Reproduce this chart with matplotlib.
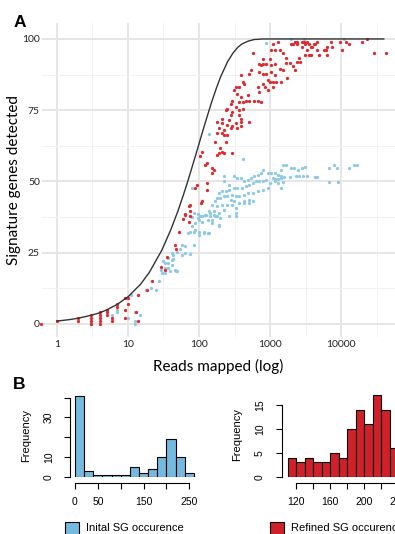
import numpy as np
import matplotlib
matplotlib.use("Agg")
from matplotlib import pyplot as plt
from matplotlib.patches import Rectangle

# ---- panel A data (reads mapped vs signature genes detected) ----
red_pts = [
    (0.6, 0), (1, 1), (2, 1), (2, 2), (3, 0), (3, 1), (3, 2), (3, 3), (4, 0), (4, 1), (4, 2), (4, 3), (4, 4),
    (5, 3), (5, 4), (5, 5), (6, 1), (6, 2), (7, 6), (7, 7), (9, 2), (9, 5), (9, 9), (10, 7), (10, 9),
    (13, 4), (14, 1), (14, 10), (18.5, 12), (22, 15), (29, 20), (33, 19), (35.5, 23.4), (46, 27.7), (47, 26.2),
    (52, 32.4), (60, 36.7), (64, 38.6), (72, 35.6), (75, 37.9), (72, 41.4), (108, 42.6), (63, 38.3), (75, 39.5), (75, 41.9),
    (110, 43), (129, 47.1), (88, 47.7), (93, 48.8), (129, 49.4), (153, 52.9), (161, 54.1), (153, 54.7), (122, 55.9),
    (129, 56.4), (104, 58.8), (110, 60.5), (295, 59.9), (225, 59.9), (180, 59.3), (190, 59.9), (212, 60.5), (200, 61.7),
    (237, 64), (170, 64), (250, 66.3), (225, 66.3), (212, 66.9), (180, 66.9), (388, 69.3), (348, 68.7), (280, 68.7),
    (225, 68.1), (190, 68.7), (509, 71), (388, 71), (329, 70.4), (295, 69.3), (250, 69.9), (212, 70.4), (180, 71),
    (1300, 99), (1040, 96), (1160, 96), (1370, 96), (570, 95), (792, 93), (986, 93), (709, 91.3), (750, 90.7),
    (792, 91.3), (883, 91.3), (1040, 90.7), (1160, 91.3), (1370, 89.5), (539, 89), (511, 87.8), (709, 88.4),
    (792, 87.8), (883, 87.8), (1040, 88.4), (1160, 87.2), (933, 85.5), (986, 84.9), (1100, 84.9), (1227, 84.9),
    (1450, 84.9), (792, 84.3), (837, 83.1), (672, 83.1), (709, 81.4), (933, 82), (1100, 83.1), (388, 87.2),
    (410, 84.9), (433, 84.3), (368, 83.1), (329, 83.1), (312, 82), (348, 80.8), (295, 78.4), (388, 79.6),
    (483, 80.2), (458, 78.4), (368, 77.8), (410, 77.8), (603, 78.4), (672, 78.4), (750, 77.8), (511, 78.4),
    (329, 76), (279, 77.3), (250, 75.5), (237, 74.9), (368, 74.9), (410, 75.5), (295, 74.3), (368, 73.2),
    (388, 72), (279, 73.2), (212, 72), (265, 71.4), (1100, 98.2),
    (1950, 98.2), (2140, 98.2), (2250, 99.1), (2430, 99.1), (2430, 98.2), (2800, 99.1), (3030, 99.1), (3130, 98.2),
    (3330, 99.1), (2800, 97.3), (4650, 99.1), (4350, 98.2), (4140, 98.2), (3500, 98.2), (3720, 97.3), (3900, 97.3),
    (4650, 96.1), (3330, 96.1), (3130, 94.4), (3500, 94.4), (3720, 94.4), (4850, 94.4), (6400, 97.3), (7500, 97.3),
    (7120, 99.1), (5740, 96.1), (6050, 96.1), (6400, 94.4), (9800, 99.1), (11600, 99.1), (13000, 98.2), (10450, 96.1),
    (20000, 99.1), (23300, 100), (28700, 95.2), (43000, 95.2), (1534, 95.2), (1700, 93.2), (1680, 91.5), (1930, 91.5),
    (2080, 90.5), (2250, 89), (2520, 93.2), (2400, 92), (2680, 92), (1750, 86.2), (1534, 89.2),
]

blue_pts = [
    (3, 0), (3, 1), (6, 3), (7, 4), (7, 5), (9, 9), (11, 10), (10, 2), (12.5, 4), (12.5, 0), (12.5, 1), (15, 3),
    (18, 12), (21, 12.5), (25, 12), (27, 15), (30.6, 18), (33, 19.5), (37, 21.5), (43, 22.7), (49.5, 18.4),
    (48.5, 25.4), (57, 27.7),
    (79, 37.4), (84, 38.8), (96, 38.6), (104, 37.9), (112, 37.7), (125, 38.2), (145, 38.8), (162, 38.2), (180, 37.7),
    (190, 34.4), (153, 35.3), (136, 36.3), (110, 35.9), (99, 36.5), (88, 35.3), (79, 34.2), (84, 32.4), (75, 32.4),
    (71, 31.8), (99, 32.4), (117, 31.8), (136, 31.8), (99, 31.2), (88, 33), (64, 27.2), (54, 26.2), (64, 24.8),
    (57, 24.2), (84, 27.7), (41, 24.8), (43, 24.2), (37, 23.1), (41, 22.5), (31, 21.9), (33, 21.3), (41, 20.7),
    (37, 19.6), (46, 19), (39, 18.4), (48, 18.4), (33, 17.8), (29.5, 19), (75, 24.6),
    (418, 57.8), (137, 66.7), (225, 51.8), (225, 50), (263, 48.8), (312, 51.8), (348, 51.2), (388, 51.2), (432, 50),
    (483, 50.6), (538, 51.2), (600, 51.8), (670, 52.4), (748, 52.9), (791, 54.1), (933, 52.9), (1039, 52.9),
    (1160, 52.9), (1293, 52.4), (1444, 54.1), (1444, 51.2), (1098, 51.2), (884, 50.6), (791, 50), (708, 50),
    (634, 50), (568, 49.4), (509, 48.8), (456, 48.3), (409, 47.7), (348, 47.7), (312, 47.7), (263, 47.1),
    (237, 46.5), (212, 46.5), (190, 45.9), (180, 44.2), (200, 44.2), (225, 44.8), (250, 44.8), (295, 45.3),
    (329, 44.8), (367, 44.8), (432, 45.3), (483, 45.9), (568, 45.9), (670, 46.5), (791, 47.1), (933, 47.7),
    (280, 43.6), (312, 43), (367, 42.4), (432, 43), (509, 43.6), (568, 43), (170, 43), (153, 41.9), (180, 41.3),
    (212, 41.9), (250, 41.9), (295, 41.9), (329, 40.7), (225, 40.1), (190, 38.9), (161, 39.5), (137, 39.5),
    (122, 38.3), (110, 37.8), (98, 37.2), (144, 37.8), (170, 37.8), (200, 37.2), (263, 37.8), (153, 36.6),
    (79, 47.7), (329, 38.9), (984, 49.4), (1160, 50), (1293, 49.4),
    (137, 31.8), (117, 32.4), (190, 34.7), (330, 37.7), (510, 42.6), (430, 42.6),
    (1530, 55.8), (1700, 55.8), (2000, 54.7), (2200, 54.7), (2500, 54), (2800, 54.7), (3100, 55), (1450, 52),
    (1600, 51.5), (1900, 51.5), (2300, 52), (2600, 52), (2900, 52), (3300, 52), (1170, 50.8), (1300, 50.8),
    (1530, 49.9), (1450, 47.7), (4370, 51.7), (4600, 51.7), (6700, 54.8), (7950, 55.8), (8900, 54.8),
    (6700, 49.7), (9200, 49.7), (13000, 54.8), (15000, 55.8), (16600, 55.8),
    (880, 98.6), (1950, 100), (3000, 100), (11000, 100),
]

# expected-detection curve
curve_reads = [1, 1.5, 2, 3, 4, 5, 7, 10, 15, 20, 30, 40, 50, 60, 70, 80, 90, 100, 120, 150, 175, 200, 250,
               300, 350, 400, 500, 600, 800, 1000, 1500, 2000, 5000, 10000, 40000]
curve_genes = [1, 1.5, 2, 3, 3.9, 4.9, 6.8, 9.5, 13.9, 18.1, 25.9, 33, 39.3, 45.1, 50.3, 55.1, 59.3, 63.2, 69.9,
               77.7, 82.6, 86.5, 91.8, 95, 97, 98.2, 99.3, 99.8, 100, 100, 100, 100, 100, 100, 100]

# ---- panel B data (histograms) ----
init_bins = [0, 20, 40, 60, 80, 100, 120, 140, 160, 180, 200, 220, 240]
init_counts = [41, 3, 1, 1, 1, 1, 5, 2, 4, 10, 19, 10, 2]
ref_bins = [110, 120, 130, 140, 150, 160, 170, 180, 190, 200, 210, 220, 230]
ref_counts = [4, 3, 4, 3, 3, 5, 4, 10, 14, 11, 17, 14, 6]

RED = "#E0282E"
BLUE = "#8DC8E8"
HRED = "#D0202A"
HBLUE = "#74BADF"
TOPFONT = "Lato"

W, H = 395, 534
fig = plt.figure(figsize=(W / 100, H / 100), dpi=100)


def box(l, t, r, b):
    # pixel box -> figure fraction
    return [l / W, 1 - b / H, (r - l) / W, (b - t) / H]


# ---------- panel A ----------
ax = fig.add_axes(box(42, 23, 395, 337))
bx, by = zip(*blue_pts)
rx, ry = zip(*red_pts)
ax.scatter(bx, by, s=5.5, color=BLUE, linewidths=0, zorder=3, clip_on=False)
ax.scatter(rx, ry, s=5.5, color=RED, linewidths=0, zorder=4, clip_on=False)
ax.plot(curve_reads, curve_genes, color="#333333", lw=1.0, zorder=5)

ax.set_xscale("log")
ax.set_xticks([1, 10, 100, 1000, 10000])
ax.set_xticklabels(["1", "10", "100", "1000", "10000"])
ax.set_xticks([10 ** (k + 0.5) for k in range(0, 5)], minor=True)
ax.set_yticks([0, 25, 50, 75, 100])
ax.set_yticks([12.5, 37.5, 62.5, 87.5], minor=True)
ax.set_xlim(0.615, 57600)
ax.set_ylim(-4.6, 105.6)
ax.tick_params(which="both", length=0)
ax.tick_params(axis="y", pad=1.5)
ax.tick_params(axis="x", pad=2)
for lab in ax.get_xticklabels() + ax.get_yticklabels():
    lab.set_fontfamily(TOPFONT)
    lab.set_fontsize(7.5)
    lab.set_color("#222222")
ax.xaxis.set_minor_formatter(matplotlib.ticker.NullFormatter())
ax.grid(which="major", color="#E6E6E6", lw=1.4)
ax.grid(which="minor", color="#F2F2F2", lw=0.7)
ax.set_axisbelow(True)
for s in ax.spines.values():
    s.set_visible(False)
ax.set_xlabel("Reads mapped (log)", fontfamily=TOPFONT, fontsize=11, labelpad=7)
ax.set_ylabel("Signature genes detected", fontfamily=TOPFONT, fontsize=11, labelpad=1)

fig.text(14 / W, 1 - 27 / H, "A", fontsize=12.5, fontweight="bold", fontfamily="Liberation Sans")
fig.text(13 / W, 1 - 389 / H, "B", fontsize=12.5, fontweight="bold", fontfamily="Liberation Sans")

# ---------- panel B ----------
HFONT = "Liberation Sans"


def r_hist(axh, bins, counts, width, color, ybound, xbound, xticks, xlabels, yticks, ylabels):
    axh.bar(bins, counts, width=width, align="edge", color=color, edgecolor="black", linewidth=0.8)
    for s in ["top", "right"]:
        axh.spines[s].set_visible(False)
    axh.spines["left"].set_bounds(*ybound)
    axh.spines["bottom"].set_bounds(*xbound)
    axh.spines["bottom"].set_position(("outward", 4.5))
    axh.spines["left"].set_linewidth(0.8)
    axh.spines["bottom"].set_linewidth(0.8)
    axh.set_xticks(xticks)
    axh.set_xticklabels(xlabels, fontfamily=HFONT, fontsize=7.5)
    axh.set_yticks(yticks)
    axh.set_yticklabels(ylabels, fontfamily=HFONT, fontsize=7.5, rotation=90, va="center")
    axh.tick_params(length=4, width=0.8)
    axh.tick_params(axis="x", pad=6)
    axh.tick_params(axis="y", pad=8)
    axh.set_ylabel("Frequency", fontfamily=HFONT, fontsize=8, labelpad=9)


# left histogram: x=0 at px 75, 250 at px 189.3 ; y=0 at px 476.7, 40 at px 397.7
hx = 114.3 / 250
hy = 79.0 / 40
ax1 = fig.add_axes(box(75 - 10 * hx, 476.7 - 42 * hy, 75 + 270 * hx, 476.7))
r_hist(ax1, init_bins, init_counts, 20, HBLUE, (0, 40), (0, 250),
       [0, 50, 100, 150, 200, 250], ["0", "50", "", "150", "", "250"],
       [0, 10, 20, 30, 40], ["0", "10", "", "30", ""])
ax1.set_xlim(-10, 270)
ax1.set_ylim(0, 42)

# right histogram: x=120 at px 296, 0.85 px per unit ; y=0 at px 476.7, 15 at px 405
rxs = 0.85
rys = 71.7 / 15
ax2 = fig.add_axes(box(296 - 16.8 * rxs, 476.7 - 17.5 * rys, 296 + 140 * rxs, 476.7))
r_hist(ax2, ref_bins, ref_counts, 10, HRED, (0, 15), (120, 240),
       [120, 140, 160, 180, 200, 220, 240], ["120", "", "160", "", "200", "", "240"],
       [0, 5, 10, 15], ["0", "5", "10", "15"])
ax2.set_xlim(103.2, 260)
ax2.set_ylim(0, 17.5)

# legends below the histograms
fig.add_artist(Rectangle((65 / W, 1 - 536 / H), 14 / W, 14 / H, transform=fig.transFigure,
                         facecolor=HBLUE, edgecolor="black", lw=0.8))
fig.text(86 / W, 1 - 528 / H, "Inital SG occurence", fontfamily=HFONT, fontsize=8, va="center")
fig.add_artist(Rectangle((270 / W, 1 - 536 / H), 13.5 / W, 14 / H, transform=fig.transFigure,
                         facecolor=HRED, edgecolor="black", lw=0.8))
fig.text(291 / W, 1 - 528 / H, "Refined SG occurence", fontfamily=HFONT, fontsize=8, va="center")

fig.savefig("out.png", dpi=100)
